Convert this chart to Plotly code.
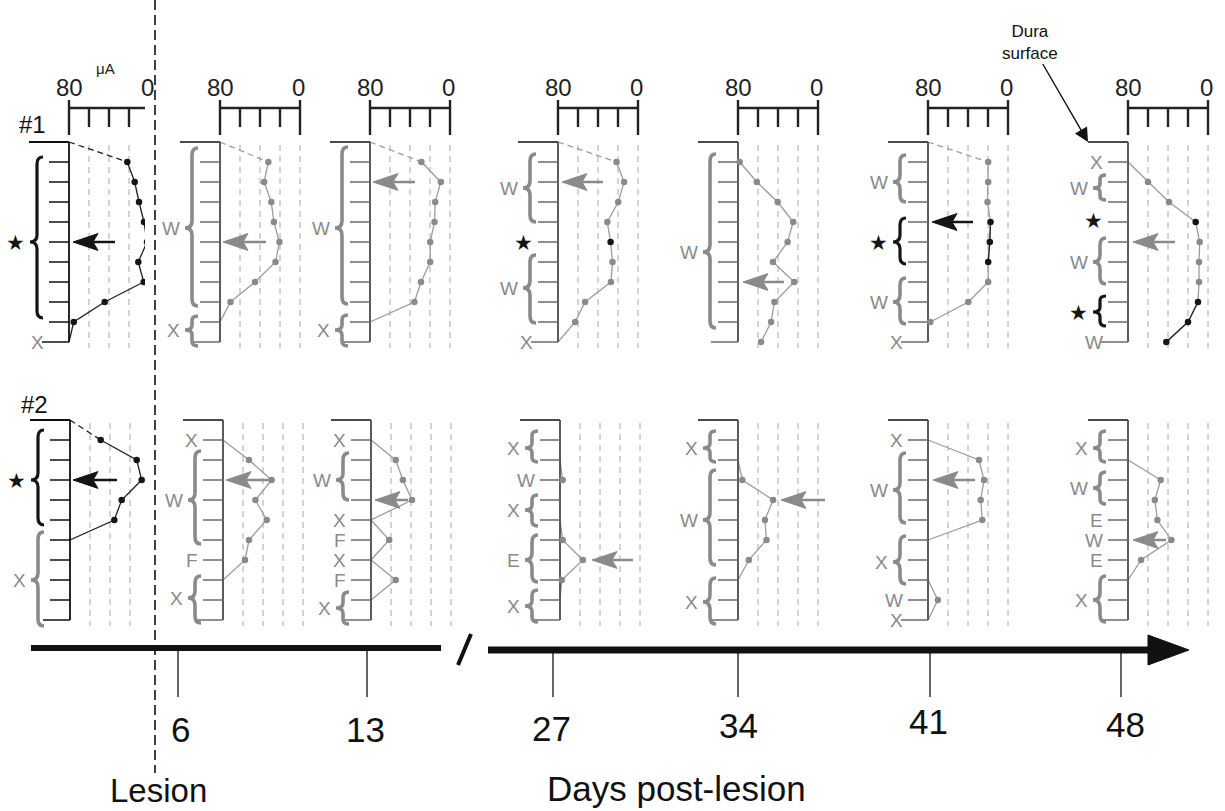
import plotly.graph_objects as go

W, H = 1225, 811
FONT = "Liberation Sans, Arial, Helvetica, sans-serif"

# ---------------- data ----------------
DAY_LABELS = ["6", "13", "27", "34", "41", "48"]
SCALE_TICKS = [80, 60, 40, 20, 0]          # µA scale on top of each #1 panel
GRID_VALUES = [60, 40, 20, 0]
SITES = list(range(1, 11))                   # recording sites (depth), top -> bottom

# Monkey #1 thresholds (µA) per site; 80 = no response (line back to axis)
M1_PRE = [21.7, 14.3, 10, 5, 2, 10.7, 5.3, 44.3, 75.3, 80]
M1_D6 = [31.7, 35.9, 28.7, 26.1, 20.6, 24.5, 45, 69.5, 80, None]
M1_D13 = [28.6, 9.2, 14.8, 15.5, 19.8, 19.8, 29, 35.6, 80, None]
M1_D27 = [21.5, 13.9, 19.8, 30.7, 27.4, 25.5, 27.1, 52.9, 62.8, 80]
M1_D34 = [78.3, 61.2, 40.3, 24.8, 30.4, 45, 23.8, 43.6, 46.9, 56.9]
M1_D41 = [19.8, 19.8, 20.5, 17.5, 18.2, 19.8, 19.8, 39.7, 77.7, None]
M1_D48 = [80, 60, 39, 12.3, 8.3, 9, 9, 10, 20, 41.7]

# Monkey #2
M2_PRE = [49.3, 13.3, 8.3, 28.3, 35.7, 80, None, None, None, None]
M2_D6 = [80, 54, 31.4, 47.6, 36.3, 54, 58, 80, None, None]
M2_D13 = [80, 55.3, 48.1, 39, 80, 61.8, 80, 55.3, 80, None]
M2_D27 = [None, 80, 77.3, None, 80, 77.3, 57.1, 78.3, 80, None]
M2_D34 = [None, 80, 75.7, 44.9, 53.1, 51.5, 69.2, 80, None, None]
M2_D41 = [80, 29, 24, 27.3, 25.7, 80, None, 80, 70.1, 80]
M2_D48 = [None, 80, 47.3, 53.2, 50.6, 36.6, 66.9, 80, None, None]

# sites drawn in black inside grey panels
M1_D27_BLACK = [5]
M1_D41_BLACK = [4, 5, 6]
M1_D48_BLACK = [4, 8, 9, 10]

# braces: (first site, last site, centre, label, ink)
M1_PRE_BRACES = [(0.75, 8.8, 5, "★", "k")]
M1_D6_BRACES = [(0.3, 8.2, 4.3, "W", "g"), (8.7, 10.2, 9.4, "X", "g")]
M1_D13_BRACES = [(0.25, 8.1, 4.3, "W", "g"), (8.65, 10.2, 9.4, "X", "g")]
M1_D27_BRACES = [(0.6, 4.0, 2.3, "W", "g"), (5.65, 9.05, 7.3, "W", "g")]
M1_D34_BRACES = [(0.6, 9.3, 5.5, "W", "g")]
M1_D41_BRACES = [(0.65, 3.0, 2.0, "W", "g"), (3.8, 6.1, 5.0, "★", "k"), (6.8, 9.1, 8.0, "W", "g")]
M1_D48_BRACES = [(1.65, 2.9, 2.3, "W", "g"), (4.8, 7.1, 6.0, "W", "g"), (7.7, 9.2, 8.5, "★", "k")]

M2_PRE_BRACES = [(0.5, 5.25, 3, "★", "k"), (5.6, 10.3, 8, "X", "g")]
M2_D6_BRACES = [(1.55, 6.2, 4.0, "W", "g"), (7.8, 10.15, 8.9, "X", "g")]
M2_D13_BRACES = [(1.65, 4.0, 3.0, "W", "g"), (8.6, 10.2, 9.4, "X", "g")]
M2_D27_BRACES = [(0.55, 2.1, 1.4, "X", "g"), (3.75, 5.3, 4.5, "X", "g"),
                 (5.75, 8.1, 7.0, "E", "g"), (8.5, 10.1, 9.3, "X", "g")]
M2_D34_BRACES = [(0.55, 2.1, 1.4, "X", "g"), (2.5, 7.25, 5.0, "W", "g"), (7.9, 10.2, 9.1, "X", "g")]
M2_D41_BRACES = [(1.65, 5.15, 3.5, "W", "g"), (5.8, 8.2, 7.1, "X", "g")]
M2_D48_BRACES = [(0.55, 2.1, 1.4, "X", "g"), (2.6, 4.2, 3.4, "W", "g"), (7.8, 10.1, 9.0, "X", "g")]

# single-site labels: (site, label, ink)
M1_PRE_MARKS = [(10, "X", "g")]
M1_D27_MARKS = [(5, "★", "k"), (10, "X", "g")]
M1_D41_MARKS = [(10, "X", "g")]
M1_D48_MARKS = [(1, "X", "g"), (3.9, "★", "k"), (10, "W", "g")]
M2_D6_MARKS = [(1, "X", "g"), (7, "F", "g")]
M2_D13_MARKS = [(1, "X", "g"), (5, "X", "g"), (6, "F", "g"), (7, "X", "g"), (8, "F", "g")]
M2_D27_MARKS = [(3, "W", "g")]
M2_D41_MARKS = [(1, "X", "g"), (9, "W", "g"), (10, "X", "g")]
M2_D48_MARKS = [(5, "E", "g"), (6, "W", "g"), (7, "E", "g")]

# arrows: (site, tip µA, tail µA, ink)
M1_ARROWS = [(5, 76, 34, "k"), (5, 77, 34, "g"), (2, 77, 35, "g"), (2, 76, 35, "g"),
             (7, 75, 34, "g"), (4, 76, 35, "k"), (5, 75, 33, "g")]
M2_ARROWS = [(3, 77, 33, "k"), (3, 77, 32, "g"), (4, 76, 43, "g"), (7, 48, 7, "g"),
             (4, 37, -7, "g"), (3, 75, 33, "g"), (6, 75, 42, "g")]

PANELS = [
    # row, col, values, black sites, dashed lead-in, braces, marks
    (1, 1, M1_PRE, SITES, True, M1_PRE_BRACES, M1_PRE_MARKS),
    (1, 2, M1_D6, [], True, M1_D6_BRACES, []),
    (1, 3, M1_D13, [], True, M1_D13_BRACES, []),
    (1, 4, M1_D27, M1_D27_BLACK, True, M1_D27_BRACES, M1_D27_MARKS),
    (1, 5, M1_D34, [], False, M1_D34_BRACES, []),
    (1, 6, M1_D41, M1_D41_BLACK, True, M1_D41_BRACES, M1_D41_MARKS),
    (1, 7, M1_D48, M1_D48_BLACK, False, M1_D48_BRACES, M1_D48_MARKS),
    (2, 1, M2_PRE, SITES, True, M2_PRE_BRACES, []),
    (2, 2, M2_D6, [], False, M2_D6_BRACES, M2_D6_MARKS),
    (2, 3, M2_D13, [], False, M2_D13_BRACES, M2_D13_MARKS),
    (2, 4, M2_D27, [], False, M2_D27_BRACES, M2_D27_MARKS),
    (2, 5, M2_D34, [], False, M2_D34_BRACES, []),
    (2, 6, M2_D41, [], False, M2_D41_BRACES, M2_D41_MARKS),
    (2, 7, M2_D48, [], False, M2_D48_BRACES, M2_D48_MARKS),
]
ARROWS = {1: M1_ARROWS, 2: M2_ARROWS}

# ---------------- layout geometry (pixels) ----------------
COL_X = {1: [69, 220, 370, 558, 738, 928, 1128], 2: [70, 223, 371, 560, 738, 928, 1128]}
ROW_Y0 = {1: 142, 2: 420}
SITE_PX = 20
ROW_SPAN = {1: (-4.6, 10.5), 2: (-1.1, 10.6)}
DAY_TICK_PX = [178, 367, 553, 738, 930, 1121]
DAY_LABEL_PX = [(180, 729), (366, 729), (551, 728), (738, 725), (928, 721), (1125, 724)]

INK = {"k": "#151515", "g": "#8a8a8a"}
LINE_INK = {"k": "#202020", "g": "#9c9c9c"}

fig = go.Figure()
layout = dict(width=W, height=H, margin=dict(l=0, r=0, t=0, b=0),
              paper_bgcolor="white", plot_bgcolor="white", showlegend=False,
              font=dict(family=FONT, color="#111"))
shapes, annos = [], []


def px(x):
    return x / W


def py(y):
    return 1 - y / H


def paper_text(x, y, text, size, yanchor="middle"):
    annos.append(dict(x=px(x), y=py(y), xref="paper", yref="paper", text=text, showarrow=False,
                      xanchor="center", yanchor=yanchor, borderpad=0,
                      font=dict(size=size, color="#111")))


for idx, (row, col, vals, black, lead, braces, marks) in enumerate(PANELS, start=1):
    sfx = "" if idx == 1 else str(idx)
    xa, ya = "x" + sfx, "y" + sfx
    ax_px = COL_X[row][col - 1]
    L = min(75, ax_px)
    R = 16
    dtop, dbot = ROW_SPAN[row]
    y0 = ROW_Y0[row]
    # 1 µA == 1 px horizontally; the axis (80 µA) sits at ax_px
    layout["xaxis" + sfx] = dict(domain=[px(ax_px - L), px(ax_px + 80 + R)], range=[80 + L, -R],
                                 visible=False, fixedrange=True, anchor=ya)
    layout["yaxis" + sfx] = dict(domain=[py(y0 + dbot * SITE_PX), py(y0 + dtop * SITE_PX)],
                                 range=[dbot, dtop], visible=False, fixedrange=True, anchor=xa)
    panel_ink = "k" if col == 1 else "g"
    black_set = set(black)

    def add(**kw):
        fig.add_trace(go.Scatter(xaxis=xa, yaxis=ya, hoverinfo="skip", showlegend=False, **kw))

    # dashed grid
    gx, gy = [], []
    for v in GRID_VALUES:
        gx += [v, v, None]
        gy += [0.15, 10.3, None]
    add(x=gx, y=gy, mode="lines", line=dict(color="#a8a8a8", width=1, dash="6px,5px"))

    # top µA scale (monkey #1 only)
    if row == 1:
        sx, sy = [80, 0, None], [-1.7, -1.7, None]
        for v in SCALE_TICKS:
            end = v in (80, 0)
            sx += [v, v, None]
            sy += [-2.1 if end else -1.7, -0.35 if end else -0.75, None]
        add(x=sx, y=sy, mode="lines", line=dict(color="#222", width=2.4))
        annos.append(dict(x=80, y=-2.75, xref=xa, yref=ya, text="80", showarrow=False,
                          font=dict(size=24, color="#222")))
        annos.append(dict(x=2, y=-2.75, xref=xa, yref=ya, text="0", showarrow=False,
                          font=dict(size=24, color="#222")))
        if col == 1:
            annos.append(dict(x=44, y=-3.7, xref=xa, yref=ya, text="μA", showarrow=False,
                              font=dict(size=15, color="#222")))

    # threshold profile
    add(x=vals, y=SITES, mode="lines", line=dict(color=LINE_INK[panel_ink], width=1.3))
    for i in range(len(SITES) - 1):
        if panel_ink == "g" and SITES[i] in black_set and SITES[i + 1] in black_set \
                and vals[i] is not None and vals[i + 1] is not None:
            add(x=[vals[i], vals[i + 1]], y=[SITES[i], SITES[i + 1]], mode="lines",
                line=dict(color=LINE_INK["k"], width=1.3))
    if lead:
        add(x=[80, vals[0]], y=[0, SITES[0]], mode="lines",
            line=dict(color=LINE_INK[panel_ink], width=1.3, dash="6px,4px"))

    # frame: axis, surface cap, site ticks
    fc = "#111" if col == 1 else "#4a4a4a"
    add(x=[80, 80, None, 120, 80], y=[0, 10, None, 0, 0], mode="lines", line=dict(color=fc, width=1.8))
    tx, ty = [], []
    for s in SITES:
        tx += [107 if s == 10 else 100, 80, None]
        ty += [s, s, None]
    add(x=tx, y=ty, mode="lines", line=dict(color="#111" if col == 1 else "#6a6a6a", width=1.5))

    # markers
    mx, my, mc = [], [], []
    for s, v in zip(SITES, vals):
        if v is not None and v < 80:
            mx.append(v)
            my.append(s)
            mc.append(INK["k"] if (panel_ink == "k" or s in black_set) else INK["g"])
    add(x=mx, y=my, mode="markers", marker=dict(size=6.5, color=mc, line=dict(width=0)))

    # arrow
    site, tip, tail, ink = ARROWS[row][col - 1]
    c = INK[ink]
    add(x=[tip, tip - 25, tip - 20, tip - 25, tip], y=[site, site - 0.42, site, site + 0.42, site],
        mode="lines", fill="toself", fillcolor=c, line=dict(color=c, width=1))
    add(x=[tip - 20, tail], y=[site, site], mode="lines", line=dict(color=c, width=2.5))

    # braces
    off = 4 if col == 1 else 0
    xe, xs, xt = 102 + off, 108 + off, 115 + off
    for (a, b, m, lab, ink) in braces:
        r = min(0.35, (m - a) / 3, (b - m) / 3)
        path = (f"M {xe},{a} Q {xs},{a} {xs},{a + r} L {xs},{m - r} Q {xs},{m} {xt},{m} "
                f"Q {xs},{m} {xs},{m + r} L {xs},{b - r} Q {xs},{b} {xe},{b}")
        shapes.append(dict(type="path", path=path, xref=xa, yref=ya,
                           line=dict(color=INK[ink], width=3.6 if ink == "g" else 3.2)))
        annos.append(dict(x=xt + 3, y=m, xref=xa, yref=ya, text=lab, showarrow=False,
                          xanchor="right", yanchor="middle",
                          font=dict(size=21 if lab == "★" else 19, color=INK[ink])))
    for (s, lab, ink) in marks:
        annos.append(dict(x=103, y=s, xref=xa, yref=ya, text=lab, showarrow=False,
                          xanchor="right", yanchor="middle",
                          font=dict(size=21 if lab == "★" else 19, color=INK[ink])))

    if col == 7 and row == 1:
        annos.append(dict(x=120, y=0, xref=xa, yref=ya, text="Dura<br>surface", showarrow=True,
                          ax=-58, ay=-100, arrowhead=2, arrowsize=2, arrowwidth=1.4,
                          arrowcolor="#111", standoff=0, font=dict(size=17, color="#111")))

# monkey labels
paper_text(32, 124, "#1", 24)
paper_text(34, 404, "#2", 24)

# lesion line
shapes.append(dict(type="line", xref="paper", yref="paper", x0=px(155), x1=px(155), y0=py(0), y1=py(773),
                   line=dict(color="#111", width=1.6, dash="10px,5px")))

# timeline
shapes.append(dict(type="line", xref="paper", yref="paper", x0=px(31), x1=px(441), y0=py(648), y1=py(648),
                   line=dict(color="#111", width=6)))
shapes.append(dict(type="line", xref="paper", yref="paper", x0=px(458), x1=px(471), y0=py(665), y1=py(634),
                   line=dict(color="#111", width=4)))
shapes.append(dict(type="line", xref="paper", yref="paper", x0=px(488), x1=px(1160), y0=py(650), y1=py(650),
                   line=dict(color="#111", width=7)))
shapes.append(dict(type="path", xref="paper", yref="paper",
                   path=f"M {px(1148)},{py(635)} L {px(1189)},{py(650)} L {px(1148)},{py(665)} Z",
                   fillcolor="#111", line=dict(color="#111", width=1)))
for lab, xp, (lx, ly) in zip(DAY_LABELS, DAY_TICK_PX, DAY_LABEL_PX):
    shapes.append(dict(type="line", xref="paper", yref="paper", x0=px(xp), x1=px(xp),
                       y0=py(650), y1=py(697), line=dict(color="#111", width=1.3)))
    paper_text(lx, ly, lab, 35)
paper_text(158, 810, "Lesion", 33, yanchor="bottom")
paper_text(676, 788, "Days post-lesion", 35)

layout["shapes"] = shapes
layout["annotations"] = annos
fig.update_layout(**layout)
fig.write_html("out.html", config={"displayModeBar": False},
               post_script="document.body.style.margin='0';document.body.style.overflow='hidden';")
